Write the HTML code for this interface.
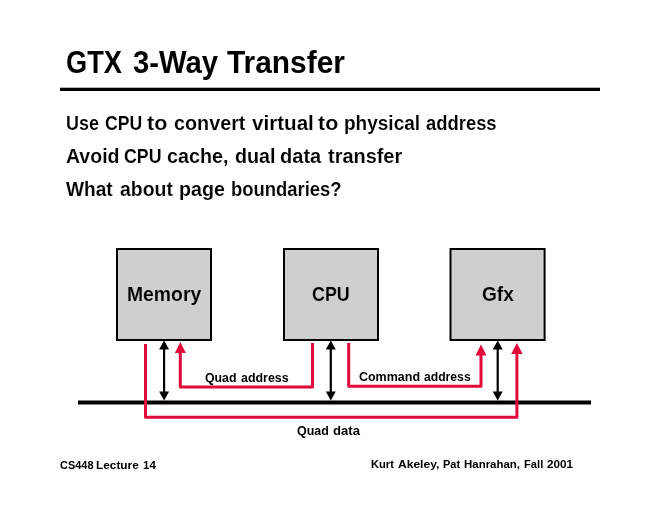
<!DOCTYPE html>
<html><head><meta charset="utf-8"><style>
html,body{margin:0;padding:0;background:#fff;}
body{width:660px;height:510px;position:relative;overflow:hidden;}
.t{position:absolute;white-space:nowrap;transform-origin:0 0;font-family:"Liberation Sans",sans-serif;font-weight:bold;color:#000;}
.l1,.l2,.l3{-webkit-text-stroke:0.1px #fff;}
.mem,.cpu,.gfx{-webkit-text-stroke:0.1px #cfcfcf;}
svg{position:absolute;left:0;top:0;}
#tx{position:absolute;left:0;top:0;width:660px;height:510px;will-change:transform;}
</style></head><body>
<svg width="660" height="510" viewBox="0 0 660 510">
<rect x="60" y="87.7" width="540" height="3.3" fill="#000"/>
<rect x="117.0" y="249.0" width="94" height="91" fill="#cfcfcf" stroke="#000" stroke-width="2"/>
<rect x="284.0" y="249.0" width="94" height="91" fill="#cfcfcf" stroke="#000" stroke-width="2"/>
<rect x="450.5" y="249.0" width="94.10000000000002" height="91" fill="#cfcfcf" stroke="#000" stroke-width="2"/>
<rect x="78" y="400.5" width="513" height="4" fill="#000"/>
<g fill="#000">
<rect x="163.00" y="348.6" width="2.2" height="43.89999999999998"/>
<polygon points="159.10,349.60 164.10,340.60 169.10,349.60"/>
<polygon points="159.10,391.50 164.10,400.50 169.10,391.50"/>
<rect x="329.70" y="348.6" width="2.2" height="43.89999999999998"/>
<polygon points="325.80,349.60 330.80,340.60 335.80,349.60"/>
<polygon points="325.80,391.50 330.80,400.50 335.80,391.50"/>
<rect x="496.60" y="348.6" width="2.2" height="43.89999999999998"/>
<polygon points="492.70,349.60 497.70,340.60 502.70,349.60"/>
<polygon points="492.70,391.50 497.70,400.50 502.70,391.50"/>
</g>
<g fill="#e2093b" stroke="none">
<path d="M145.50,344.00 L145.50,417.30 L516.90,417.30 L516.90,352.00" fill="none" stroke="#e2093b" stroke-width="3" stroke-linejoin="round" stroke-linecap="butt"/>
<polygon points="511.15,354.00 516.90,343.00 522.65,354.00"/>
<path d="M312.50,343.00 L312.50,386.90 L180.30,386.90 L180.30,351.00" fill="none" stroke="#e2093b" stroke-width="3" stroke-linejoin="round" stroke-linecap="butt"/>
<polygon points="174.80,353.00 180.30,342.00 185.80,353.00"/>
<path d="M348.70,343.00 L348.70,386.20 L481.00,386.20 L481.00,354.00" fill="none" stroke="#e2093b" stroke-width="3" stroke-linejoin="round" stroke-linecap="butt"/>
<polygon points="475.50,355.60 481.00,344.50 486.50,355.60"/>
</g>
</svg>
<div id="tx">
<div class="t title" style="left:65.95px;top:47.51px;font-size:30.70px;line-height:30.70px;transform:scaleX(0.887);">GTX</div>
<div class="t title" style="left:132.70px;top:47.51px;font-size:30.70px;line-height:30.70px;transform:scaleX(0.953);">3-Way</div>
<div class="t title" style="left:227.47px;top:47.51px;font-size:30.70px;line-height:30.70px;transform:scaleX(0.974);">Transfer</div>
<div class="t l1" style="left:65.75px;top:112.65px;font-size:20.50px;line-height:20.50px;transform:scaleX(0.877);">Use</div>
<div class="t l1" style="left:104.95px;top:112.65px;font-size:20.50px;line-height:20.50px;transform:scaleX(0.861);">CPU</div>
<div class="t l1" style="left:147.40px;top:112.65px;font-size:20.50px;line-height:20.50px;transform:scaleX(1.052);">to</div>
<div class="t l1" style="left:173.88px;top:112.65px;font-size:20.50px;line-height:20.50px;transform:scaleX(0.965);">convert</div>
<div class="t l1" style="left:251.79px;top:112.65px;font-size:20.50px;line-height:20.50px;transform:scaleX(1.005);">virtual</div>
<div class="t l1" style="left:318.41px;top:112.65px;font-size:20.50px;line-height:20.50px;transform:scaleX(1.046);">to</div>
<div class="t l1" style="left:344.21px;top:112.65px;font-size:20.50px;line-height:20.50px;transform:scaleX(0.927);">physical</div>
<div class="t l1" style="left:426.48px;top:112.65px;font-size:20.50px;line-height:20.50px;transform:scaleX(0.898);">address</div>
<div class="t l2" style="left:65.82px;top:145.65px;font-size:20.50px;line-height:20.50px;transform:scaleX(0.952);">Avoid</div>
<div class="t l2" style="left:123.93px;top:145.65px;font-size:20.50px;line-height:20.50px;transform:scaleX(0.867);">CPU</div>
<div class="t l2" style="left:166.99px;top:145.65px;font-size:20.50px;line-height:20.50px;transform:scaleX(0.962);">cache,</div>
<div class="t l2" style="left:235.35px;top:145.65px;font-size:20.50px;line-height:20.50px;transform:scaleX(0.961);">dual</div>
<div class="t l2" style="left:280.12px;top:145.65px;font-size:20.50px;line-height:20.50px;transform:scaleX(0.978);">data</div>
<div class="t l2" style="left:327.74px;top:145.65px;font-size:20.50px;line-height:20.50px;transform:scaleX(0.972);">transfer</div>
<div class="t l3" style="left:65.99px;top:179.25px;font-size:20.50px;line-height:20.50px;transform:scaleX(0.932);">What</div>
<div class="t l3" style="left:120.21px;top:179.25px;font-size:20.50px;line-height:20.50px;transform:scaleX(0.950);">about</div>
<div class="t l3" style="left:179.16px;top:179.25px;font-size:20.50px;line-height:20.50px;transform:scaleX(0.958);">page</div>
<div class="t l3" style="left:230.91px;top:179.25px;font-size:20.50px;line-height:20.50px;transform:scaleX(0.899);">boundaries?</div>
<div class="t mem" style="left:126.72px;top:284.07px;font-size:20.00px;line-height:20.00px;transform:scaleX(0.967);">Memory</div>
<div class="t cpu" style="left:312.08px;top:283.77px;font-size:20.00px;line-height:20.00px;transform:scaleX(0.894);">CPU</div>
<div class="t gfx" style="left:482.02px;top:284.07px;font-size:20.00px;line-height:20.00px;transform:scaleX(0.956);">Gfx</div>
<div class="t qa" style="left:204.95px;top:371.84px;font-size:12.00px;line-height:12.00px;transform:scaleX(1.025);">Quad</div>
<div class="t qa" style="left:240.55px;top:371.84px;font-size:12.00px;line-height:12.00px;transform:scaleX(1.035);">address</div>
<div class="t ca" style="left:358.96px;top:370.52px;font-size:12.50px;line-height:12.50px;">Command</div>
<div class="t ca" style="left:424.42px;top:370.52px;font-size:12.50px;line-height:12.50px;transform:scaleX(0.973);">address</div>
<div class="t qd" style="left:297.35px;top:424.76px;font-size:12.10px;line-height:12.10px;transform:scaleX(1.028);">Quad</div>
<div class="t qd" style="left:332.91px;top:424.76px;font-size:12.10px;line-height:12.10px;transform:scaleX(1.083);">data</div>
<div class="t f1" style="left:59.50px;top:459.81px;font-size:10.50px;line-height:10.50px;transform:scaleX(1.044);">CS448</div>
<div class="t f1" style="left:95.55px;top:459.81px;font-size:10.50px;line-height:10.50px;transform:scaleX(1.129);">Lecture</div>
<div class="t f1" style="left:142.52px;top:459.81px;font-size:10.50px;line-height:10.50px;transform:scaleX(1.097);">14</div>
<div class="t f2" style="left:371.06px;top:459.31px;font-size:10.50px;line-height:10.50px;transform:scaleX(1.058);">Kurt</div>
<div class="t f2" style="left:398.00px;top:459.31px;font-size:10.50px;line-height:10.50px;transform:scaleX(1.147);">Akeley,</div>
<div class="t f2" style="left:442.61px;top:459.31px;font-size:10.50px;line-height:10.50px;transform:scaleX(1.048);">Pat</div>
<div class="t f2" style="left:464.01px;top:459.31px;font-size:10.50px;line-height:10.50px;transform:scaleX(1.091);">Hanrahan,</div>
<div class="t f2" style="left:523.97px;top:459.31px;font-size:10.50px;line-height:10.50px;transform:scaleX(1.068);">Fall</div>
<div class="t f2" style="left:547.35px;top:459.31px;font-size:10.50px;line-height:10.50px;transform:scaleX(1.109);">2001</div>
</div>
</body></html>
